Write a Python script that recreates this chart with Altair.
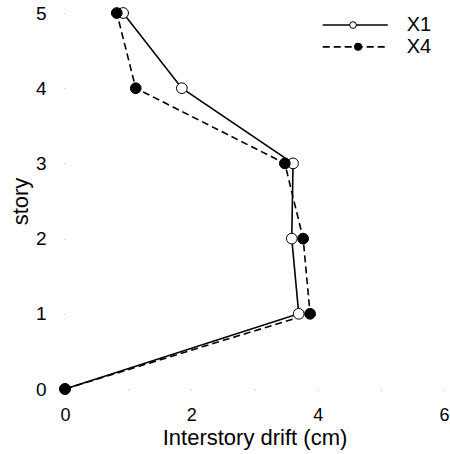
import altair as alt
import pandas as pd

story = [0, 1, 2, 3, 4, 5]
drift_x1 = [0.0, 3.70, 3.59, 3.61, 1.85, 0.92]
drift_x4 = [0.0, 3.88, 3.77, 3.48, 1.12, 0.82]
series_names = ["X1", "X4"]

df1 = pd.DataFrame({"drift": drift_x1, "story": story})
df4 = pd.DataFrame({"drift": drift_x4, "story": story})

FONT = "Liberation Sans"

xs = alt.Scale(domain=[0, 6], nice=False)
ys = alt.Scale(domain=[0, 5], nice=False)

xenc = alt.X(
    "drift:Q", scale=xs,
    axis=alt.Axis(title="Interstory drift (cm)", values=[0, 1, 2, 3, 4, 5, 6], format="d",
                  labelExpr="datum.value % 2 == 0 ? datum.label : ''",
                  domain=False, grid=False, tickSize=1, tickColor="#bbbbbb",
                  labelFlush=False, labelBound=False, labelOverlap=False,
                  labelPadding=16, labelFontSize=18, titleFontSize=22,
                  titleFontWeight="normal", titlePadding=3, labelFont=FONT, titleFont=FONT,
                  labelColor="black", titleColor="black"),
)
yenc = alt.Y(
    "story:Q", scale=ys,
    axis=alt.Axis(title="story", values=[0, 0.5, 1, 1.5, 2, 2.5, 3, 3.5, 4, 4.5, 5], format="d",
                  labelExpr="datum.value % 1 == 0 ? datum.label : ''",
                  domain=False, grid=False, tickSize=1, tickColor="#bbbbbb",
                  labelFlush=False, labelBound=False, labelOverlap=False,
                  labelPadding=18, labelFontSize=19, titleFontSize=22,
                  titleFontWeight="normal", titlePadding=3, labelFont=FONT, titleFont=FONT,
                  labelColor="black", titleColor="black"),
)

line1 = alt.Chart(df1).mark_line(color="black", strokeWidth=1.6).encode(x=xenc, y=yenc, order="story:Q")
pts1 = alt.Chart(df1).mark_point(shape="circle", size=115, filled=True, fill="white",
                                 stroke="black", strokeWidth=1, opacity=1).encode(x="drift:Q", y="story:Q")
line4 = alt.Chart(df4).mark_line(color="black", strokeWidth=1.6, strokeDash=[7, 4]).encode(
    x="drift:Q", y="story:Q", order="story:Q")
pts4 = alt.Chart(df4).mark_point(shape="circle", size=115, filled=True, fill="black",
                                 stroke="black", strokeWidth=1, opacity=1).encode(x="drift:Q", y="story:Q")

# legend (placed in data units through the same scales)
leg_x0, leg_x1, leg_mx, leg_tx = 4.08, 5.11, 4.6, 5.41
leg_y = [4.84, 4.55]
leg_lines = pd.DataFrame({"x": [leg_x0] * 2, "x2": [leg_x1] * 2, "y": leg_y, "name": series_names})
leg_solid = alt.Chart(leg_lines.iloc[[0]]).mark_rule(color="black", strokeWidth=1.6).encode(
    x="x:Q", x2="x2:Q", y="y:Q")
leg_dash = alt.Chart(leg_lines.iloc[[1]]).mark_rule(color="black", strokeWidth=1.6, strokeDash=[7, 4]).encode(
    x="x:Q", x2="x2:Q", y="y:Q")
leg_pts = pd.DataFrame({"x": [leg_mx - 0.04, leg_mx + 0.04], "y": leg_y, "name": series_names})
leg_open = alt.Chart(leg_pts.iloc[[0]]).mark_point(shape="circle", size=45, filled=True, fill="white",
                                                    stroke="black", strokeWidth=1, opacity=1).encode(x="x:Q", y="y:Q")
leg_fill = alt.Chart(leg_pts.iloc[[1]]).mark_point(shape="circle", size=65, filled=True, fill="black",
                                                    opacity=1).encode(x="x:Q", y="y:Q")
leg_txt = pd.DataFrame({"x": [leg_tx] * 2, "y": leg_y, "name": series_names})
leg_text = alt.Chart(leg_txt).mark_text(align="left", baseline="middle", fontSize=20, font=FONT,
                                        color="black").encode(x="x:Q", y="y:Q", text="name:N")

chart = alt.layer(line1, line4, pts1, pts4, leg_solid, leg_dash, leg_open, leg_fill, leg_text).properties(
    width=379, height=376,
    autosize=alt.AutoSizeParams(type="none"),
    padding={"left": 65, "top": 13, "right": 6, "bottom": 65},
    background="white",
).configure_view(stroke=None)

chart.save("out.html", embed_options={"renderer": "svg", "actions": False})
